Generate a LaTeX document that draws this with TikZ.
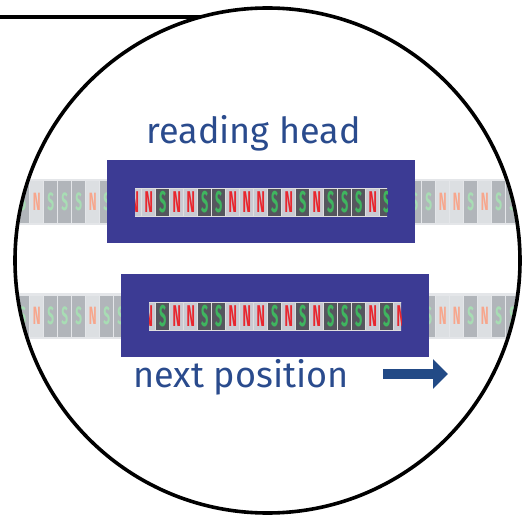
\documentclass[tikz,border=0pt]{standalone}
\usepackage{fontspec}
\setmainfont{Fira Sans}
\usepackage{tikz}
\usetikzlibrary{arrows.meta,positioning}

\definecolor{headblue}{HTML}{3C3B94}
\definecolor{labelblue}{HTML}{2A4B8D}
\definecolor{arrowblue}{HTML}{224A86}
\definecolor{tapeband}{HTML}{E4E6E9}
\definecolor{fadeN}{HTML}{DCDFE2}
\definecolor{fadeS}{HTML}{B1B5BA}
\definecolor{inkfadeN}{HTML}{F7A68C}
\definecolor{inkfadeS}{HTML}{A8DDB4}
\definecolor{cellN}{HTML}{C9CAD2}
\definecolor{cellS}{HTML}{55565E}
\definecolor{inkN}{HTML}{E8262E}
\definecolor{inkS}{HTML}{3FB55F}

% poles on the tape, cell -9 to 26
\newcommand{\tapeseq}{S,N,S,S,S,N,S,S,N,N,S,N,N,S,S,N,N,N,S,N,S,N,S,S,S,N,S,N,S,S,N,N,S,N,S,S}

\begin{document}
\begin{tikzpicture}[x=1pt,y=-1pt,
  headbox/.style={fill=headblue,minimum width=308pt,minimum height=83pt,inner sep=0pt},
  pole/.style={inner sep=0pt,font=\fontsize{#1}{#1}\selectfont\bfseries},
  label/.style={text=labelblue,anchor=base,font=\fontsize{36}{36}\selectfont},
]
  \useasboundingbox (0,0) rectangle (525,516);

  % faded tape seen through the lens
  \begin{scope}
    \clip (267.5,260.5) circle[radius=251pt];
    \foreach \row/\ytop in {1/179,2/293} {
      \fill[tapeband] (0,\ytop) rectangle (525,\ytop+46);
      \foreach \pole [count=\i from -9] in \tapeseq {
        \pgfmathsetmacro\cx{141.7+14*\i}
        \filldraw[fill=fade\pole,draw=tapeband,line width=1pt]
          (\cx,\ytop+2) rectangle ++(14,42);
        \node[pole=25,text=inkfade\pole] (far\row\i) at (\cx+7,\ytop+23)
          {\scalebox{0.47}[1]{\pole}};
      }
    }
  \end{scope}

  % reading head, now and one cell further
  \node[headbox] (head1) at (261,201.5) {};
  \node[headbox] (head2) at (275,315.5) {};

  \foreach \row/\xl/\ytop in {1/135/188,2/149/302} {
    \begin{scope}
      \clip (\xl,\ytop) rectangle (\xl+252,\ytop+28);
      \foreach \pole [count=\i from -9] in \tapeseq {
        \pgfmathsetmacro\cx{141.7+14*\i}
        \filldraw[fill=cell\pole,draw=white!75!gray,line width=0.6pt]
          (\cx,\ytop) rectangle ++(14,28);
        \node[pole=30,text=ink\pole] (near\row\i) at (\cx+7,\ytop+14)
          {\scalebox{0.42}[1]{\pole}};
      }
    \end{scope}
  }

  % lens
  \draw[line width=3.6pt] (267.5,260.5) circle[radius=252.5pt];
  \draw[line width=3.6pt] (0,17) -- (200.7,17);

  \node[label] (head label) at (253.5,144) {reading head};
  \node[label] (next label) at (241,387) {next position};

  \coordinate (move start) at (383,374);
  \coordinate (move end) at (448,374);
  \draw[arrowblue,line width=10pt,-{Triangle[length=15pt,width=29pt]}]
    (move start) -- (move end);
\end{tikzpicture}
\end{document}
